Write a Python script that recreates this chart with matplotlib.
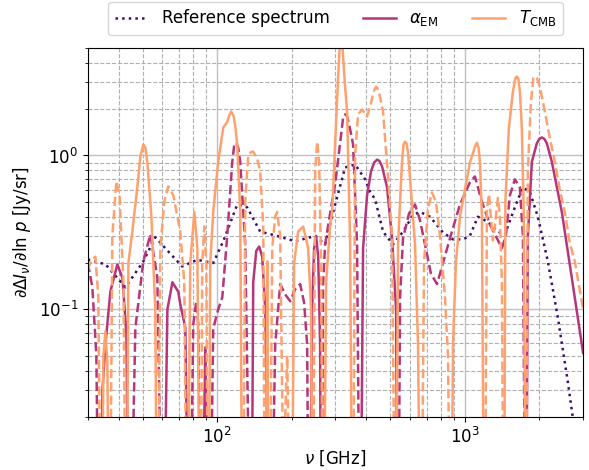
import numpy as np
import matplotlib
matplotlib.use("Agg")
import matplotlib.pyplot as plt

# ─────────────────────────────────────────────────
# data (GHz, Jy/sr)
# signed values: >0 drawn solid, <0 drawn dashed, 0 = zero crossing
# ─────────────────────────────────────────────────

nu_ref = [30.0, 35.4, 42.6, 50.3, 56.2, 63.4, 72.2, 83.0, 96.3, 105.7,
          120.4, 132.1, 149.0, 174.5, 206.3, 248.3, 272.6, 299.2, 328.3, 360.2,
          395.3, 414.0, 433.7, 467.0, 512.5, 562.3, 616.9, 658.3, 722.3, 815.0,
          894.6, 981.6, 1047, 1128, 1238, 1358, 1449, 1590, 1713, 1829,
          1969, 2161, 2371, 2602, 2724]
ref = [0.211, 0.196, 0.139, 0.205, 0.294, 0.238, 0.19, 0.21, 0.20, 0.277,
       0.48, 0.46, 0.32, 0.30, 0.277, 0.30, 0.264, 0.48, 0.836, 0.874,
       0.70, 0.58, 0.52, 0.32, 0.264, 0.32, 0.41, 0.43, 0.40, 0.316,
       0.285, 0.285, 0.30, 0.40, 0.37, 0.32, 0.306, 0.46, 0.62, 0.58,
       0.40, 0.205, 0.089, 0.0338, 0.02]

nu_alpha = [30.0, 31.3, 32.5, 33.4, 34.4, 35.35, 37.03, 39.5, 41.4, 42.95,
            44.2, 46.7, 50.3, 53.7, 57.3, 60.3, 62.9, 65.9, 69.6, 70.9,
            74.3, 77.1, 80.0, 82.3, 83.8, 86.2, 89.5, 92.9, 96.3, 100.9,
            104.8, 109.7, 114.9, 117.1, 119.3, 121.5, 123.8, 129.7, 137.1, 139.7,
            143.7, 147.7, 151.9, 156.2, 163.6, 171.4, 179.5, 188.0, 197.0, 206.3,
            216.1, 224.3, 230.6, 234.9, 241.6, 246.1, 250.7, 255.5, 260.2, 262.6,
            267.6, 272.6, 285.5, 299.2, 313.3, 322.0, 328.2, 334.0, 340.7, 353.5,
            366.9, 377.3, 387.9, 402.6, 417.8, 430.0, 441.8, 452.0, 462.8, 484.8,
            507.8, 527.1, 537.0, 547.0, 562.3, 594.6, 628.8, 658.3, 689.7, 729.4,
            771.3, 815.5, 870.2, 954.6, 1047.6, 1097.3, 1171, 1261, 1346, 1410,
            1463, 1519, 1591, 1667, 1714, 1762, 1795, 1863, 1951, 1995,
            2044, 2093, 2141, 2243, 2461, 2701, 3000]
alpha_em = [-0.2, -0.14, -0.05, 0, 0.03, 0.059, 0.131, 0.196, 0.16, 0.07,
            0, -0.076, -0.205, -0.307, -0.16, 0, 0.10, 0.15, 0.13, 0.108,
            0.076, 0, -0.08, -0.113, -0.08, 0, 0.0566, 0, -0.075, -0.1,
            -0.12, -0.3, -0.9, -1.17, -1.21, -1.12, -0.91, -0.264, 0, 0.15,
            0.24, 0.256, 0.22, 0.10, 0, -0.059, -0.146, -0.125, -0.113, -0.135,
            -0.146, -0.11, -0.059, 0, 0.10, 0.25, 0.30, 0.22, 0.06, 0,
            -0.15, -0.264, -0.42, -0.65, -1.2, -1.75, -1.85, -1.8, -1.6, -1.18,
            -0.264, 0, 0.25, 0.55, 0.79, 0.9, 0.94, 0.92, 0.85, 0.62,
            0.29, 0.1, 0, -0.12, -0.29, -0.42, -0.48, -0.38, -0.264, -0.17,
            -0.146, -0.2, -0.29, -0.48, -0.67, -0.73, -0.50, -0.356, -0.29, -0.25,
            -0.3, -0.55, -0.70, -0.62, -0.3, 0, 0.3, 0.91, 1.2, 1.28,
            1.31, 1.28, 1.2, 0.91, 0.43, 0.16, 0.052]

nu_tcmb = [30.0, 31.05, 32.2, 33.1, 34.07, 34.7, 35.35, 36.0, 36.7, 37.7,
           39.14, 40.3, 41.8, 42.95, 43.77, 45.4, 47.6, 48.9, 50.3, 51.3,
           52.2, 54.2, 56.2, 57.3, 58.9, 61.1, 63.4, 66.5, 70.9, 73.6,
           75.7, 77.8, 80.8, 83.1, 85.4, 87.0, 88.6, 90.3, 92.0, 93.7,
           96.3, 100.9, 105.7, 109.7, 111.7, 113.9, 116.5, 118.5, 120.4, 123.8,
           126.7, 129.7, 133.4, 136.5, 139.7, 145.0, 149.0, 153.3, 156.2, 159.1,
           162.1, 166.7, 171.4, 174.5, 179.5, 184.6, 191.6, 198.8, 204.4, 212.1,
           222.2, 232.8, 239.3, 242.7, 248.5, 253.1, 257.8, 262.6, 267.6, 275.1,
           285.5, 290.9, 299.2, 307.5, 313.3, 319.2, 328.2, 334.4, 343.9, 351.9,
           360.2, 370.3, 384.4, 402.6, 417.8, 427.6, 437.7, 448.0, 454.3, 467.1,
           489.3, 507.8, 524.7, 537.0, 557.0, 565.0, 573.0, 580.9, 589.0, 600.0,
           628.8, 646.4, 664.5, 683.4, 709.4, 736.1, 764.0, 793.0, 830.7, 854.0,
           878.3, 894.8, 919.7, 954.6, 1000, 1047.6, 1100, 1117.8, 1135, 1150,
           1171, 1198, 1227, 1250, 1273, 1297, 1321, 1359, 1384, 1410,
           1437, 1456, 1504, 1562, 1600, 1621, 1643, 1667, 1697, 1729,
           1762, 1795, 1846, 1889, 1916, 1951, 2006, 2102, 2201, 2307,
           2415, 2530, 2651, 2777, 3000]
t_cmb = [-0.18, -0.21, -0.22, -0.12, 0, 0.05, 0.072, 0.045, 0, -0.3,
         -0.68, -0.55, -0.15, 0, 0.2, 0.32, 0.63, 0.98, 1.18, 1.12,
         0.9, 0.4, 0.1, 0, -0.25, -0.5, -0.63, -0.55, -0.32, -0.15,
         0, 0.2, 0.43, 0.25, 0, -0.2, -0.345, -0.2, 0, 0.2,
         0.43, 0.91, 1.52, 1.65, 1.82, 1.93, 1.8, 1.5, 1.18, 0.43,
         0, -0.5, -1.0, -1.05, -1.06, -0.95, -0.79, -0.35, 0, 0.205,
         0, -0.25, -0.40, -0.43, -0.3, -0.008, -0.05, 0, 0.2, 0.32,
         0.345, 0.25, 0.1, 0, -0.8, -1.23, -0.9, -0.2, 0, 0.15,
         0.35, 0.43, 1.18, 3.2, 5.8, 5.5, 2.8, 1.93, 0.264, 0,
         -1.0, -1.85, -1.99, -1.79, -2.2, -2.6, -2.8, -2.65, -2.4, -1.93,
         -0.72, -0.3, 0, 0.264, 0.91, 1.18, 1.23, 1.2, 1.05, 0.72,
         0.264, 0.059, 0, -0.2, -0.45, -0.575, -0.5, -0.3, -0.12, -0.05,
         0, 0.06, 0.2, 0.4, 0.6, 0.9, 1.15, 1.21, 1.12, 0.9,
         0.4, 0, -0.45, -0.56, -0.4, -0.28, -0.35, -0.53, -0.4, -0.15,
         0, 0.5, 1.5, 2.6, 3.2, 3.26, 3.15, 2.6, 1.5, 0.4,
         0, -0.8, -2.2, -3.2, -3.26, -3.2, -2.8, -1.93, -1.3, -0.91,
         -0.6, -0.43, -0.27, -0.205, -0.10]

c_ref = "#3b0f70"
c_alpha = "#b5367a"
c_tcmb = "#fea16e"


def plot_signed(ax, nu, val, color, label):
    """positive part solid, negative part dashed (abs value)"""
    nu = np.asarray(nu, dtype=float)
    val = np.asarray(val, dtype=float)
    floor = 1e-3   # crossings drawn below the axis so the line dives out
    pos = np.where(val > 0, val, np.where(val == 0, floor, np.nan))
    neg = np.where(val < 0, -val, np.where(val == 0, floor, np.nan))
    ax.plot(nu, pos, color=color, lw=1.8, ls="-", label=label)
    ax.plot(nu, neg, color=color, lw=1.8, ls="--")


plt.rcParams["font.size"] = 12

fig = plt.figure(figsize=(5.89, 4.70), dpi=100)
ax = fig.add_axes([0.149, 0.113, 0.841, 0.785])

ax.plot(nu_ref, ref, color=c_ref, lw=1.8, ls=":", label="Reference spectrum")
plot_signed(ax, nu_alpha, alpha_em, c_alpha, r"$\alpha_{\rm EM}$")
plot_signed(ax, nu_tcmb, t_cmb, c_tcmb, r"$T_{\rm CMB}$")

ax.set_xscale("log")
ax.set_yscale("log")
ax.set_xlim(30, 3000)
ax.set_ylim(0.02, 5)

ax.grid(which="major", color="#c0c0c0", ls="-", lw=1.0)
ax.grid(which="minor", color="#b0b0b0", ls="--", lw=0.8)

ax.set_xlabel(r"$\nu$ [GHz]", labelpad=1)
ax.set_ylabel(r"$\partial \Delta I_\nu / \partial \ln\, p$ [Jy/sr]")

ax.legend(loc="lower center", bbox_to_anchor=(0.5, 1.035), ncol=3,
          fontsize=12, columnspacing=2.0, borderaxespad=0)

fig.savefig("out.png", dpi=100)
